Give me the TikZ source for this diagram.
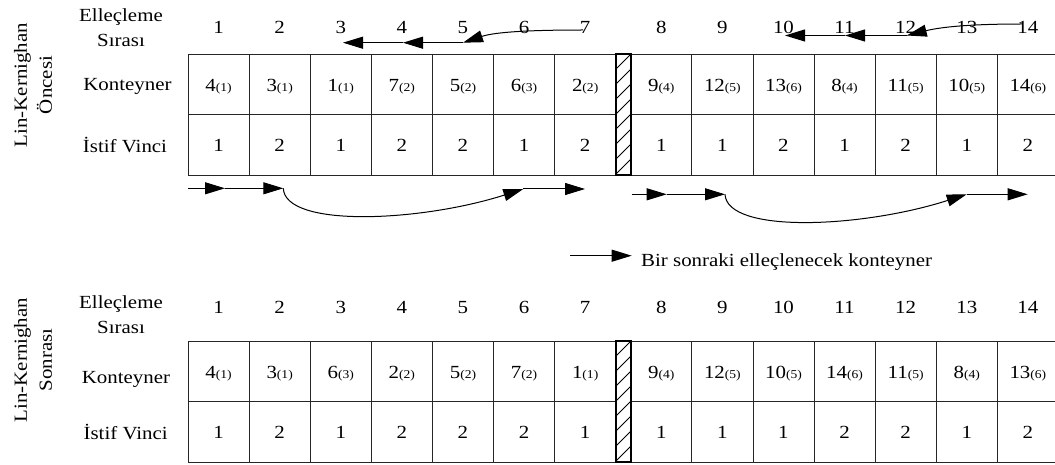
\documentclass[tikz,border=0pt]{standalone}
\usepackage{fontspec}
\setmainfont{Liberation Serif}[FakeStretch=1.13]
\usetikzlibrary{arrows.meta}

\tikzset{
  etiket/.style={font=\fontsize{18.5pt}{25pt}\selectfont, inner sep=0pt},
  hucre/.style={draw=black!85, line width=0.8pt, minimum width=61.1pt,
    minimum height=60.6pt, inner sep=0pt, outer sep=0pt,
    text height=14pt, text depth=0pt, font=\fontsize{18.5pt}{25pt}\selectfont},
  ok/.style={-{Triangle[length=20pt,width=12pt]}, line width=1pt},
  tarali/.style={line width=1.4pt}
}
\newcommand{\vinc}[1]{{\fontsize{12pt}{12pt}\selectfont(#1)}}

\begin{document}
\begin{tikzpicture}[x=1pt,y=-1pt]

\useasboundingbox (0,0) rectangle (1055,465);

\node[etiket, rotate=90, align=center] (lka) at (33,85) {Lin-Kernighan\\Öncesi};
\node[etiket, align=center, anchor=north] (esa) at (121,8.4) {Elleçleme\\Sırası};
\node[etiket, anchor=base] (kna) at (127.5,91) {Konteyner};
\node[etiket, anchor=base] (iva) at (125,152.7) {İstif Vinci};

\foreach \i/\k/\a/\v in {1/4/1/1, 2/3/1/2, 3/1/1/1, 4/7/2/2, 5/5/2/2, 6/6/3/1, 7/2/2/2,
    8/9/4/1, 9/12/5/1, 10/13/6/2, 11/8/4/1, 12/11/5/2, 13/10/5/1, 14/14/6/2} {
  \pgfmathsetmacro\cx{188+(\i-0.5)*61.1+15*(\i>7)}
  \node[etiket, anchor=base] (sa\i) at (\cx,33.3) {\i};
  \node[hucre] (ka\i) at (\cx,84.3) {\k\vinc{\a}};
  \node[hucre] (va\i) at (\cx,144.9) {\v};
}

\begin{scope}
  \clip (616,54) rectangle (631,175.2);
  \foreach \t in {0,...,9}
    \draw[line width=0.8pt] (616,{54+15*\t}) -- (631,{39+15*\t});
\end{scope}
\draw[tarali] (616,54) rectangle (631,175.2);

\coordinate (a7) at (583,30);
\coordinate (a5) at (463,42.7);
\coordinate (a4) at (403,42.7);
\coordinate (a3) at (343,42.7);
\draw[ok] (a7) .. controls (530,30) and (495,32) .. (a5);
\draw[ok] (a5) -- (a4);
\draw[ok] (a4) -- (a3);

\coordinate (b14) at (1022,24);
\coordinate (b12) at (906.7,35.5);
\coordinate (b11) at (845,35.5);
\coordinate (b10) at (785,35.5);
\draw[ok] (b14) .. controls (980,24) and (945,26) .. (b12);
\draw[ok] (b12) -- (b11);
\draw[ok] (b11) -- (b10);

\coordinate (c0) at (188,188.3);
\coordinate (c1) at (225,188.3);
\coordinate (c2) at (283.3,188.3);
\coordinate (c6) at (523.3,189);
\coordinate (c7) at (585,189);
\draw[ok] (c0) -- (c1);
\draw[ok] (c1) -- (c2);
\draw[ok] (c2) .. controls (285,228) and (420,222) .. (c6);
\draw[ok] (c6) -- (c7);

\coordinate (d0) at (631.7,194.3);
\coordinate (d8) at (666.7,194.3);
\coordinate (d9) at (725,194.3);
\coordinate (d13) at (966.7,194.3);
\coordinate (d14) at (1027.7,194.3);
\draw[ok] (d0) -- (d8);
\draw[ok] (d8) -- (d9);
\draw[ok] (d9) .. controls (727,234) and (862,228) .. (d13);
\draw[ok] (d13) -- (d14);

\coordinate (lbas) at (570,255.7);
\coordinate (luc) at (631.7,255.7);
\node[etiket, anchor=base west] (acik) at (641,266) {Bir sonraki elleçlenecek konteyner};
\draw[ok] (lbas) -- (luc);

\node[etiket, rotate=90, align=center] (lkb) at (33,360) {Lin-Kernighan\\Sonrası};
\node[etiket, align=center, anchor=north] (esb) at (121,295.7) {Elleçleme\\Sırası};
\node[etiket, anchor=base] (knb) at (126,383.3) {Konteyner};
\node[etiket, anchor=base] (ivb) at (125.7,439) {İstif Vinci};

\foreach \i/\k/\a/\v in {1/4/1/1, 2/3/1/2, 3/6/3/1, 4/2/2/2, 5/5/2/2, 6/7/2/2, 7/1/1/1,
    8/9/4/1, 9/12/5/1, 10/10/5/1, 11/14/6/2, 12/11/5/2, 13/8/4/1, 14/13/6/2} {
  \pgfmathsetmacro\cx{188+(\i-0.5)*61.1+15*(\i>7)}
  \node[etiket, anchor=base] (sb\i) at (\cx,313.3) {\i};
  \node[hucre] (kb\i) at (\cx,371.25) {\k\vinc{\a}};
  \node[hucre] (vb\i) at (\cx,431.75) {\v};
}

\begin{scope}
  \clip (616,341) rectangle (631,462);
  \foreach \t in {0,...,9}
    \draw[line width=0.8pt] (616,{341+15*\t}) -- (631,{326+15*\t});
\end{scope}
\draw[tarali] (616,341) rectangle (631,462);

\end{tikzpicture}
\end{document}
